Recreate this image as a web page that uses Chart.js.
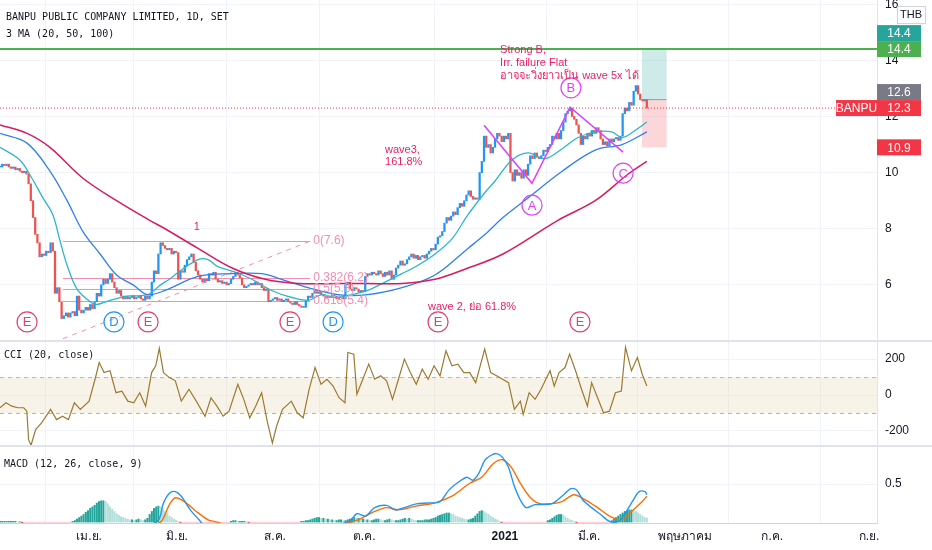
<!DOCTYPE html>
<html>
<head>
<meta charset="utf-8">
<script src="https://cdn.jsdelivr.net/npm/chart.js@4.4.1/dist/chart.umd.min.js"></script>
<style>
  html, body { margin: 0; background: #fff; }
  #wrap { width: 932px; height: 550px; position: relative; }
</style>
</head>
<body>
<div id="wrap"><canvas id="c"></canvas></div>
<script>
// daily closes, one per trading day (bar index 0..294)
var closes = [
  10.2,10.3,10.25,10.3,10.2,10.15,10.2,10.1,10.15,10.05,
  10.0,10.05,9.95,9.6,9.0,8.4,7.8,7.5,7.0,7.1,
  7.05,7.2,7.15,7.5,7.2,5.7,5.9,5.4,4.8,4.9,
  5.0,4.85,5.0,5.05,4.9,5.6,5.1,5.0,5.1,5.2,
  5.1,5.3,5.15,5.4,5.7,5.6,6.0,6.2,6.05,6.2,
  6.4,6.1,5.9,5.7,5.8,5.6,5.5,5.6,5.5,5.55,
  5.6,5.5,5.55,5.6,5.5,5.45,5.6,5.5,5.6,6.1,
  6.5,6.4,7.1,7.5,7.4,7.3,7.25,7.3,7.1,7.2,
  7.15,6.2,6.5,6.45,6.7,6.9,7.0,7.1,6.8,6.5,
  6.35,6.2,6.1,6.2,6.15,6.4,6.35,6.45,6.2,6.1,
  6.15,6.05,6.1,6.0,6.05,6.2,6.3,6.45,6.35,6.25,
  6.0,5.9,5.95,6.0,6.05,6.0,6.1,6.0,6.05,5.9,
  5.8,5.85,5.4,5.45,5.5,5.55,5.45,5.5,5.4,5.45,
  5.5,5.4,5.35,5.3,5.4,5.3,5.25,5.2,5.2,5.45,
  5.6,5.55,5.7,5.8,5.7,5.75,5.65,5.6,5.55,5.6,
  5.55,5.65,5.6,5.5,5.55,5.6,5.5,6.0,6.1,5.85,
  5.8,5.9,5.85,5.75,5.8,5.75,6.3,6.4,6.35,6.45,
  6.4,6.35,6.5,6.4,6.3,6.45,6.35,6.5,6.2,6.35,
  6.6,6.7,6.85,6.7,6.75,6.9,7.0,7.1,6.95,7.05,
  6.9,7.0,7.05,6.95,7.1,7.2,7.3,7.25,7.45,7.7,
  7.75,7.9,8.2,8.4,8.3,8.45,8.6,8.5,8.75,8.9,
  8.8,9.0,9.2,9.35,9.15,9.05,9.1,9.05,10.0,10.4,
  11.3,10.9,11.0,10.7,10.9,11.2,11.4,11.3,11.1,11.3,
  11.2,11.4,10.0,9.7,10.1,9.9,10.0,9.8,10.1,9.9,
  10.3,10.6,10.5,10.7,10.55,10.5,10.6,10.8,10.75,10.9,
  11.0,11.3,11.2,11.4,11.2,11.5,11.8,12.1,12.2,12.3,
  12.0,11.9,11.7,11.4,11.0,11.3,11.2,11.4,11.3,11.5,
  11.4,11.6,11.5,11.2,11.0,11.1,10.95,11.2,11.1,11.2,
  11.25,11.15,11.3,12.1,12.3,12.2,12.5,12.4,12.9,13.1,
  12.8,12.6,12.55,12.6,12.3
];

// moving averages: [bar index, price]
var ma20 = [[0,10.9],[9,10.45],[14.5,9.8],[19.5,9.1],[24,8.5],[27,7.65],[30.5,6.7],[35,5.85],[41,5.4],[44,5.3],
  [50,5.45],[58,5.6],[67,5.65],[73,6.0],[77,6.2],[81,6.45],[90,6.9],[94.5,6.9],[99,6.65],[107,6.45],
  [114.5,6.2],[123.5,5.8],[132.7,5.55],[140,5.45],[146.4,5.65],[152,5.55],[160,5.65],[167,5.8],[175,6.1],
  [182.7,6.4],[190,6.7],[197.7,7.1],[205.5,7.65],[212.7,8.5],[220.5,9.3],[225,9.7],[232.7,10.45],[240,10.7],
  [247.7,10.5],[255.5,10.85],[262.7,11.25],[270.5,11.45],[278,11.45],[282.7,11.25],[288.6,11.5],[294,11.8]];
var ma50 = [[0,11.4],[12.3,11.05],[22.7,10.05],[30.5,9.0],[37.7,7.9],[45.5,7.1],[53,6.35],[60.5,6.0],[67,5.65],
  [75,5.8],[90,6.3],[105.5,6.4],[119,6.4],[128,6.2],[140,5.9],[153.6,5.65],[167,5.65],[182.7,5.9],[197.7,6.35],
  [212.7,7.3],[220.5,7.8],[228.6,8.4],[240,9.1],[255.5,10.05],[270.5,10.8],[282.7,11.0],[294,11.45]];
var ma100 = [[0,11.7],[12.3,11.4],[22.7,10.9],[37.7,9.8],[53,9.0],[68,8.3],[75,8.0],[90,7.3],[105.5,6.6],
  [120.5,6.2],[135.5,6.05],[153.6,6.05],[167,6.05],[182.7,6.05],[197.7,6.2],[212.7,6.6],[228.6,7.1],
  [253.6,8.3],[270.5,9.0],[285.5,9.95],[294,10.4]];

// CCI (20, close): [bar index, value]
var cci = [[0,-71],[2.7,-43],[5.4,-62],[8.1,-71],[10.8,-71],[12.2,-90],[13,-249],[14.1,-280],[16.2,-193],[18.9,-155],
  [23,-80],[25.7,-137],[28.4,-118],[31.1,-137],[33.8,-43],[36.5,-80],[40.5,-34],[43.2,88],[45.1,181],[47.3,125],
  [50,135],[52.7,13],[55.4,22],[58.1,-34],[60.8,-43],[63.5,13],[66.2,-62],[68.9,125],[70.8,163],[72.4,260],
  [74.3,125],[77,97],[79.7,79],[82.4,-34],[85.9,32],[89.2,-34],[93.2,-118],[95.9,-15],[98.6,-62],[101.4,-118],
  [104.1,-90],[108.1,60],[110.8,-24],[113.5,-127],[116.2,-62],[118.9,13],[121.6,-155],[123.8,-267],[125.7,-174],
  [128.4,-80],[132.4,-34],[135.1,-99],[137.8,-127],[140.5,32],[143.2,153],[145.9,60],[148.6,88],[151.4,50],
  [154.1,-15],[156.8,-43],[158.1,237],[160.8,228],[162.2,4],[164.9,88],[167.6,172],[170.3,88],[173,107],
  [175.7,79],[178.4,-24],[181.1,88],[183.8,200],[186.5,125],[189.2,60],[191.9,144],[194.6,88],[197.3,163],
  [200,107],[202.7,247],[205.4,163],[208.1,172],[210.8,125],[213.5,125],[216.2,69],[220.3,256],[223,125],
  [225.7,107],[228.4,88],[231.1,69],[233.8,-80],[236.5,-34],[237.8,-108],[240.5,13],[243.2,-24],[245.9,32],
  [248.1,88],[250,135],[251.9,50],[254.1,125],[256.8,153],[258.9,228],[261.6,135],[264.3,32],[267,-62],
  [268.9,69],[271.6,-15],[274.3,-99],[277,-90],[279.7,13],[282.4,22],[284.3,266],[287,135],[289.7,209],
  [291.9,116],[294,50]];

// MACD (12, 26, close, 9): [bar index, value]
var macdLine = [[0,-0.15],[20,-0.4],[40,-0.35],[60,-0.1],[71.6,0.01],[74.3,0.25],[77,0.38],[79.7,0.40],[82.4,0.34],
  [86.5,0.16],[90.5,0.03],[93.2,-0.05],[108,-0.1],[135,-0.08],[151,-0.04],[156.8,-0.01],[159.5,0.03],[162.2,0.11],
  [166.2,0.08],[170.3,0.19],[175.7,0.22],[179.7,0.16],[183.8,0.19],[189.2,0.24],[194.6,0.25],[200,0.27],[204,0.42],
  [208.1,0.52],[212.2,0.59],[214.9,0.55],[217.6,0.64],[220.3,0.81],[223,0.875],[225.7,0.9],[228.4,0.85],[231.1,0.72],
  [233.8,0.47],[236.5,0.29],[239.2,0.19],[243.2,0.23],[247.3,0.23],[251.4,0.25],[255.4,0.34],[259.5,0.44],
  [262.2,0.42],[264.9,0.29],[268.9,0.19],[273,0.10],[277,0.01],[281.1,0.01],[283.8,0.10],[287.8,0.29],
  [290.5,0.40],[293.2,0.40],[294,0.36]];
var signalLine = [[0,-0.1],[25,-0.3],[50,-0.3],[65,-0.08],[73,0.0],[77,0.23],[79.7,0.32],[83.8,0.27],[89.2,0.14],
  [94.6,0.03],[98.6,0.0],[108,-0.08],[135,-0.08],[152,-0.03],[159.5,0.0],[164.9,0.06],[170.3,0.14],[175.7,0.19],
  [181.1,0.16],[189.2,0.21],[197.3,0.25],[205.4,0.34],[213.5,0.51],[218.9,0.59],[224.3,0.77],[228.4,0.82],
  [232.4,0.72],[236.5,0.51],[240.5,0.34],[244.6,0.25],[250,0.24],[255.4,0.27],[260.8,0.36],[266.2,0.29],
  [271.6,0.19],[277,0.08],[282.4,0.03],[287.8,0.16],[291.9,0.27],[294,0.34]];
var macdHist = [
  0.01,0.01,0.01,0.01,0.01,0.01,0.01,0.01,0.005,0.005,
  -0.01,-0.01,-0.01,-0.01,-0.01,-0.01,-0.01,-0.01,-0.01,-0.01,
  -0.01,-0.01,-0.01,-0.01,-0.01,-0.01,-0.01,-0.01,-0.01,-0.01,
  -0.01,-0.01,-0.01,0.01,0.02,0.04,0.06,0.08,0.1,0.13,
  0.15,0.18,0.2,0.22,0.25,0.27,0.28,0.28,0.27,0.24,
  0.2,0.17,0.14,0.11,0.09,0.07,0.06,0.05,0.04,0.03,
  0.03,0.02,0.03,0.04,0.03,0.02,0.03,0.05,0.1,0.14,
  0.18,0.2,0.21,0.2,0.17,0.14,0.11,0.08,0.06,0.04,
  0.02,0.01,-0.01,-0.01,-0.01,-0.01,-0.01,-0.01,-0.01,-0.01,
  -0.01,-0.01,-0.01,-0.01,-0.01,-0.01,-0.01,-0.01,-0.01,-0.01,
  -0.01,-0.01,-0.01,-0.01,-0.01,0.01,0.02,0.02,0.01,0.01,
  0.01,0.01,0.005,-0.01,-0.01,-0.01,-0.01,-0.01,-0.01,-0.01,
  -0.01,-0.01,-0.01,-0.01,-0.01,-0.01,-0.01,-0.01,-0.01,-0.01,
  -0.01,-0.01,-0.01,-0.01,-0.01,-0.01,-0.01,0.01,0.01,0.02,
  0.02,0.03,0.04,0.05,0.06,0.06,0.05,0.05,0.04,0.04,
  0.03,0.03,0.02,0.02,0.03,0.03,0.02,0.02,0.03,0.04,
  0.05,0.06,0.05,0.05,0.04,0.04,0.03,0.03,0.02,0.02,
  0.03,0.04,0.04,0.03,0.02,0.02,0.03,0.04,0.03,0.02,
  0.02,0.02,0.03,0.04,0.05,0.04,0.05,0.04,0.03,0.02,
  0.02,0.02,0.02,0.03,0.03,0.03,0.04,0.05,0.06,0.08,
  0.09,0.1,0.11,0.12,0.12,0.11,0.1,0.08,0.07,0.06,
  0.05,0.04,0.03,0.03,0.04,0.05,0.08,0.11,0.14,0.15,
  0.14,0.12,0.1,0.08,0.06,0.04,0.03,0.01,-0.01,-0.01,
  -0.01,-0.01,-0.01,-0.01,-0.01,-0.01,-0.01,-0.01,-0.01,-0.01,
  -0.01,-0.01,-0.01,-0.01,-0.01,-0.01,-0.01,-0.01,-0.01,0.02,
  0.03,0.05,0.07,0.09,0.1,0.1,0.09,0.07,0.05,0.03,
  0.02,0.01,-0.01,-0.01,-0.01,-0.01,-0.01,-0.01,-0.01,-0.01,
  -0.01,-0.01,-0.01,-0.01,-0.01,-0.01,-0.01,-0.01,0.02,0.04,
  0.06,0.08,0.1,0.12,0.14,0.15,0.16,0.16,0.15,0.14,
  0.12,0.1,0.08,0.06,0.05
];

// time axis: bar index of each label
var monthIdx = [40.5, 80.5, 125, 165.5, 229.5, 267.7, 311.4, 351, 395];
var monthNames = ['เม.ย.', 'มิ.ย.', 'ส.ค.', 'ต.ค.', '2021', 'มี.ค.', 'พฤษภาคม', 'ก.ค.', 'ก.ย.'];
var priceTicks = [6, 8, 10, 12, 14, 16];
var cciTicks = [-200, 0, 200];
var macdTicks = [0.5];
var cciBand = [-100, 100];

// drawings
var lastPrice = 12.3, entryPrice = 12.6, targetPrice = 14.4, stopPrice = 10.9;
var positionSpan = [291.8, 303];
var fibSpan = [28.6, 141];
var fibLevels = [7.56, 6.24, 5.85, 5.42];
var fibLabels = ['0(7.6)', '0.382(6.2)', '0.5(5.8)', '0.618(5.4)'];
var fibDiagonal = [[28.6, 4.08], [141, 7.56]];
var waveMarks = [['E',12.3,4.68],['D',51.8,4.68],['E',67.3,4.68],['E',131.8,4.68],['D',151.4,4.68],['E',199.1,4.68],['E',263.6,4.68]];
var abcMarks = [['A',241.8,8.84],['B',259.5,13.02],['C',283.2,9.98]];
var zigzag = [[220,11.69],[241.8,9.62],[259.1,12.33],[283.2,10.73]];
var notes = [
  ['1', 89.5, 8.06],
  ['wave3,', 175, 10.8], ['161.8%', 175, 10.37],
  ['wave 2, ย่อ 61.8%', 194.5, 5.21],
  ['Strong B,', 227.3, 14.36], ['Irr. failure Flat', 227.3, 13.9], ['อาจจะวิ่งยาวเป็น wave 5x ได้', 227.3, 13.44]
];

var XMAX = 398.6;
var UP = '#2196f3', DOWN = '#ef5350';
var FONT = '"Liberation Sans", "Noto Sans", "DejaVu Sans", sans-serif';
var FIB = '#f48fb1';

function pts(list) { return list.map(function (p) { return {x: p[0], y: p[1]}; }); }

var candleData = closes.map(function (c, i) {
  var o = i === 0 ? c : closes[i - 1];
  return {x: i, y: [o, c]};
});
var candleColors = closes.map(function (c, i) {
  var o = i === 0 ? c : closes[i - 1];
  return c >= o ? UP : DOWN;
});
var histData = macdHist.map(function (v, i) { return {x: i, y: v}; });
var histColors = macdHist.map(function (v, i) {
  var prev = i === 0 ? v : macdHist[i - 1];
  if (v >= 0) return v >= prev ? '#26a69a' : '#b2dfdb';
  return v < prev ? '#ff5252' : '#ffcdd2';
});

var overlay = {
  id: 'overlay',
  beforeDatasetsDraw: function (chart) {
    var ctx = chart.ctx, a = chart.chartArea, s = chart.scales;
    var x = s.x, y = s.y, yc = s.yCci;
    ctx.save();
    // CCI band
    var bt = yc.getPixelForValue(cciBand[1]), bb = yc.getPixelForValue(cciBand[0]);
    ctx.fillStyle = 'rgba(233, 214, 182, 0.3)';
    ctx.fillRect(a.left, bt, a.right - a.left, bb - bt);
    ctx.setLineDash([4, 4]);
    ctx.strokeStyle = '#b2b5be';
    ctx.lineWidth = 1;
    [bt, bb].forEach(function (py) {
      ctx.beginPath(); ctx.moveTo(a.left, py + 0.5); ctx.lineTo(a.right, py + 0.5); ctx.stroke();
    });
    ctx.setLineDash([]);
    // position box
    var px0 = x.getPixelForValue(positionSpan[0]), px1 = x.getPixelForValue(positionSpan[1]);
    var pe = y.getPixelForValue(entryPrice), pt = y.getPixelForValue(targetPrice), ps = y.getPixelForValue(stopPrice);
    ctx.fillStyle = 'rgba(38, 166, 154, 0.22)';
    ctx.fillRect(px0, pt, px1 - px0, pe - pt);
    ctx.fillStyle = 'rgba(242, 54, 69, 0.2)';
    ctx.fillRect(px0, pe, px1 - px0, ps - pe);
    ctx.strokeStyle = '#9598a1';
    ctx.beginPath(); ctx.moveTo(px0, pe); ctx.lineTo(px1, pe); ctx.stroke();
    // fib retracement
    var fx0 = x.getPixelForValue(fibSpan[0]), fx1 = x.getPixelForValue(fibSpan[1]);
    ctx.strokeStyle = FIB;
    ctx.lineWidth = 1;
    fibLevels.forEach(function (v) {
      var py = Math.round(y.getPixelForValue(v)) + 0.5;
      ctx.beginPath(); ctx.moveTo(fx0, py); ctx.lineTo(fx1, py); ctx.stroke();
    });
    ctx.setLineDash([5, 5]);
    ctx.beginPath();
    ctx.moveTo(x.getPixelForValue(fibDiagonal[0][0]), y.getPixelForValue(fibDiagonal[0][1]));
    ctx.lineTo(x.getPixelForValue(fibDiagonal[1][0]), y.getPixelForValue(fibDiagonal[1][1]));
    ctx.stroke();
    ctx.setLineDash([]);
    ctx.restore();
  },
  afterDatasetsDraw: function (chart) {
    var ctx = chart.ctx, s = chart.scales, x = s.x, y = s.y;
    ctx.save();
    // fib labels
    ctx.font = '12px ' + FONT;
    ctx.fillStyle = FIB;
    ctx.textBaseline = 'middle';
    ctx.textAlign = 'left';
    var fx1 = x.getPixelForValue(fibSpan[1]);
    fibLevels.forEach(function (v, i) {
      ctx.fillText(fibLabels[i], fx1 + 3, y.getPixelForValue(v));
    });
    // circled wave marks
    function circle(label, i, v, color) {
      var cx = x.getPixelForValue(i), cy = y.getPixelForValue(v);
      ctx.strokeStyle = color; ctx.lineWidth = 1.2;
      ctx.beginPath(); ctx.arc(cx, cy, 10, 0, Math.PI * 2); ctx.stroke();
      ctx.fillStyle = color; ctx.font = '13px ' + FONT; ctx.textAlign = 'center';
      ctx.fillText(label, cx, cy + 1);
    }
    waveMarks.forEach(function (m) { circle(m[0], m[1], m[2], m[0] === 'D' ? '#2196f3' : '#e0436b'); });
    abcMarks.forEach(function (m) { circle(m[0], m[1], m[2], '#e040fb'); });
    // notes
    ctx.fillStyle = '#e91e63';
    ctx.font = '11px ' + FONT;
    notes.forEach(function (n) {
      ctx.textAlign = n[0] === '1' ? 'center' : 'left';
      ctx.fillText(n[0], x.getPixelForValue(n[1]), y.getPixelForValue(n[2]));
    });
    ctx.restore();
  },
  afterDraw: function (chart) {
    var ctx = chart.ctx, a = chart.chartArea, s = chart.scales, y = s.y, yc = s.yCci;
    ctx.save();
    // pane separators and axis border
    ctx.strokeStyle = '#e0e3eb';
    ctx.lineWidth = 2;
    [y.bottom, yc.bottom].forEach(function (py) {
      ctx.beginPath(); ctx.moveTo(0, py); ctx.lineTo(chart.width, py); ctx.stroke();
    });
    ctx.lineWidth = 1;
    ctx.beginPath(); ctx.moveTo(a.right + 0.5, 0); ctx.lineTo(a.right + 0.5, a.bottom); ctx.stroke();
    // titles
    ctx.fillStyle = '#131722';
    ctx.font = '10px "DejaVu Sans Mono", monospace';
    ctx.textAlign = 'left'; ctx.textBaseline = 'middle';
    ctx.fillText('BANPU PUBLIC COMPANY LIMITED, 1D, SET', 6, y.top + 17);
    ctx.fillText('3 MA (20, 50, 100)', 6, y.top + 34);
    ctx.fillText('CCI (20, close)', 4, yc.top + 14);
    ctx.fillText('MACD (12, 26, close, 9)', 4, s.yMacd.top + 18);
    // THB box
    ctx.fillStyle = '#fff'; ctx.strokeStyle = '#d1d4dc';
    ctx.fillRect(a.right + 20, 6, 28, 17); ctx.strokeRect(a.right + 20.5, 6.5, 28, 17);
    ctx.fillStyle = '#131722'; ctx.font = '11px ' + FONT; ctx.textAlign = 'center';
    ctx.fillText('THB', a.right + 34, 15);
    // price tags on the axis, pushed up when they collide
    var tags = [
      [lastPrice, '#f23645'], [stopPrice, '#f23645'], [targetPrice, '#4caf50'],
      [entryPrice, '#787b86'], [targetPrice, '#26a69a']
    ];
    var placed = [], h = 16;
    ctx.font = '12px ' + FONT;
    tags.forEach(function (t, k) {
      var cy = y.getPixelForValue(t[0]);
      var moved = true;
      while (moved) {
        moved = false;
        placed.forEach(function (p) {
          if (Math.abs(p - cy) < h) { cy = p - h; moved = true; }
        });
      }
      placed.push(cy);
      ctx.fillStyle = t[1];
      ctx.fillRect(a.right, cy - h / 2, 44, h);
      ctx.fillStyle = '#fff';
      ctx.textAlign = 'center';
      ctx.fillText(t[0].toFixed(1), a.right + 22, cy + 1);
      if (k === 0) {
        ctx.fillStyle = t[1];
        ctx.fillRect(a.right - 41, cy - h / 2, 41, h);
        ctx.fillStyle = '#fff';
        ctx.fillText('BANPU', a.right - 20.5, cy + 1);
      }
    });
    ctx.restore();
  }
};

function fixWidth(scale) { scale.width = 55; scale.paddingTop = 0; scale.paddingBottom = 0; }
function setTicks(list) { return function (scale) { scale.ticks = list.map(function (v) { return {value: v}; }); }; }
var tickFont = {family: FONT, size: 12};
var grid = {color: '#f0f3fa', drawTicks: false};

new Chart(document.getElementById('c'), {
  type: 'line',
  data: {
    datasets: [
      {type: 'bar', data: candleData, yAxisID: 'y', backgroundColor: candleColors, grouped: false,
       barThickness: 1.6, minBarLength: 1, order: 5},
      {data: pts(ma100), yAxisID: 'y', borderColor: '#d81b60', borderWidth: 1.5, pointRadius: 0, tension: 0.35, order: 4},
      {data: pts(ma50), yAxisID: 'y', borderColor: '#2f80ed', borderWidth: 1.3, pointRadius: 0, tension: 0.35, order: 4},
      {data: pts(ma20), yAxisID: 'y', borderColor: '#2bb6c9', borderWidth: 1.3, pointRadius: 0, tension: 0.35, order: 4},
      {data: pts(zigzag), yAxisID: 'y', borderColor: '#e040fb', borderWidth: 1.5, pointRadius: 0, order: 3},
      {data: [{x: 0, y: targetPrice}, {x: XMAX, y: targetPrice}], yAxisID: 'y', borderColor: '#4caf50', borderWidth: 2, pointRadius: 0, order: 3},
      {data: [{x: 0, y: lastPrice}, {x: XMAX, y: lastPrice}], yAxisID: 'y', borderColor: '#f23645', borderWidth: 1, borderDash: [1, 2], pointRadius: 0, order: 3},
      {data: pts(cci), yAxisID: 'yCci', borderColor: '#9c7a30', borderWidth: 1.2, pointRadius: 0, order: 3},
      {type: 'bar', data: histData, yAxisID: 'yMacd', backgroundColor: histColors, grouped: false, barThickness: 1.4, order: 5},
      {data: pts(macdLine), yAxisID: 'yMacd', borderColor: '#2196f3', borderWidth: 1.4, pointRadius: 0, tension: 0.3, order: 3},
      {data: pts(signalLine), yAxisID: 'yMacd', borderColor: '#ff6d00', borderWidth: 1.4, pointRadius: 0, tension: 0.3, order: 3}
    ]
  },
  options: {
    responsive: true,
    maintainAspectRatio: false,
    animation: false,
    layout: {padding: 0},
    plugins: {legend: {display: false}, tooltip: {enabled: false}},
    scales: {
      x: {
        type: 'linear', min: 0, max: XMAX, offset: false,
        grid: grid, border: {display: true, color: '#d1d4dc'},
        afterBuildTicks: setTicks(monthIdx),
        afterFit: function (s) { s.height = 27; s.paddingLeft = 0; s.paddingRight = 0; },
        ticks: {
          autoSkip: false, maxRotation: 0, padding: 6, color: '#131722',
          font: function (c) { return {family: FONT, size: 12, weight: c.tick && c.tick.value === monthIdx[4] ? 'bold' : 'normal'}; },
          callback: function (v, i) { return monthNames[i]; }
        }
      },
      y: {
        position: 'right', stack: 'panes', stackWeight: 341, min: 4, max: 16.15,
        grid: grid, border: {display: false},
        afterBuildTicks: setTicks(priceTicks), afterFit: fixWidth,
        ticks: {padding: 8, color: '#131722', font: tickFont}
      },
      yCci: {
        position: 'right', stack: 'panes', stackWeight: 105, min: -284, max: 301,
        grid: grid, border: {display: false},
        afterBuildTicks: setTicks(cciTicks), afterFit: fixWidth,
        ticks: {padding: 8, color: '#131722', font: tickFont}
      },
      yMacd: {
        position: 'right', stack: 'panes', stackWeight: 77, min: -0.012, max: 1.0,
        grid: grid, border: {display: false},
        afterBuildTicks: setTicks(macdTicks), afterFit: fixWidth,
        ticks: {padding: 8, color: '#131722', font: tickFont}
      }
    }
  },
  plugins: [overlay]
});
</script>
</body>
</html>
